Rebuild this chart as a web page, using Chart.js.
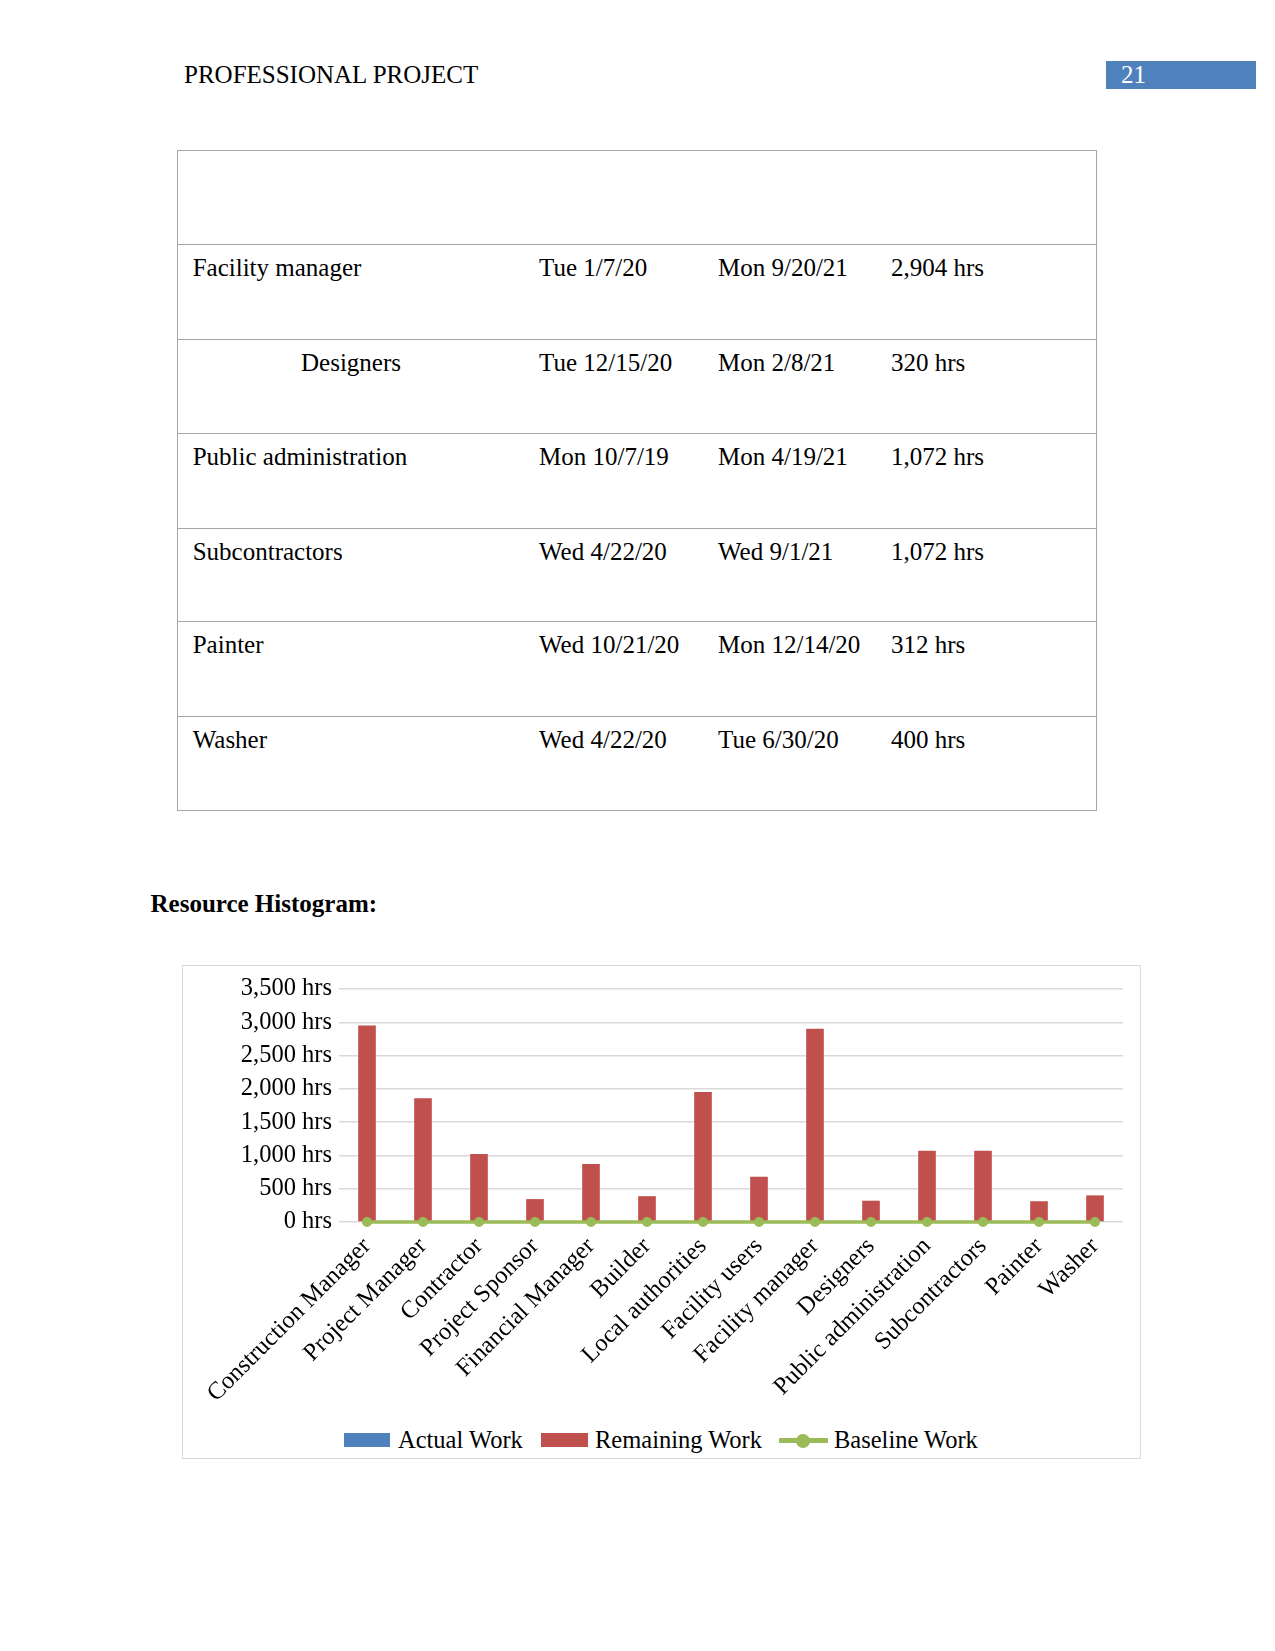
<!DOCTYPE html>
<html>
<head>
<meta charset="utf-8">
<script src="https://cdn.jsdelivr.net/npm/chart.js@4.4.1/dist/chart.umd.min.js"></script>
<style>
    body{
        margin:0;
        background:#fff;
        font-family:"Liberation Serif","Times New Roman",serif;
        color:#000;
    }
    .page{
        position:relative;
        width:1275px;
        height:1651px;
        overflow:hidden;
    }
    .abs{
        position:absolute;
        white-space:nowrap;
        font-size:25px;
        line-height:25px;
    }
    .hline{
        position:absolute;
        left:177px;
        width:920px;
        height:0;
        border-top:1.5px solid #a6a6a6;
    }
    .vline{
        position:absolute;
        top:149.5px;
        height:660.5px;
        width:0;
        border-left:1.5px solid #a6a6a6;
    }
    .chartBox{
        position:absolute;
        left:182px;
        top:964.5px;
        width:959px;
        height:494px;
        border:1.5px solid #d9d9d9;
        box-sizing:border-box;
    }
    .lg{
        position:absolute;
        font-size:24.5px;
        line-height:24px;
        white-space:nowrap;
    }
</style>
</head>
<body>
<div class="page" id="page">

    <div class="abs" style="left:184px;top:62px;">PROFESSIONAL PROJECT</div>
    <div style="position:absolute;left:1106px;top:61px;width:150px;height:27.5px;background:#4f81bd;"></div>
    <div class="abs" style="left:1121px;top:62px;color:#fff;">21</div>

    <div class="abs" style="left:150.5px;top:891px;font-weight:bold;">Resource Histogram:</div>

    <div class="chartBox"></div>
    <div style="position:absolute;left:182px;top:966px;width:961px;height:450px;">
        <canvas id="histChart"></canvas>
    </div>

    <div style="position:absolute;left:344px;top:1433px;width:46px;height:14px;background:#4f81bd;"></div>
    <div class="lg" style="left:398px;top:1428px;">Actual Work</div>
    <div style="position:absolute;left:541px;top:1433px;width:47px;height:14px;background:#c0504d;"></div>
    <div class="lg" style="left:595px;top:1428px;">Remaining Work</div>
    <div style="position:absolute;left:779px;top:1438px;width:49px;height:5px;background:#9bbb59;"></div>
    <div style="position:absolute;left:796px;top:1433.5px;width:14px;height:14px;border-radius:50%;background:#9bbb59;"></div>
    <div class="lg" style="left:834px;top:1428px;">Baseline Work</div>

</div>

<script>

// ==========================
// Data
// ==========================

const resources=[
    "Construction Manager",
    "Project Manager",
    "Contractor",
    "Project Sponsor",
    "Financial Manager",
    "Builder",
    "Local authorities",
    "Facility users",
    "Facility manager",
    "Designers",
    "Public administration",
    "Subcontractors",
    "Painter",
    "Washer"
];

const actualWork=[0,0,0,0,0,0,0,0,0,0,0,0,0,0];

const remainingWork=[2950,1860,1020,344,872,388,1952,680,2904,320,1072,1072,312,400];

const baselineWork=[0,0,0,0,0,0,0,0,0,0,0,0,0,0];

const yTicks=[0,500,1000,1500,2000,2500,3000,3500];

const tableRows=[
    ["Facility manager","Tue 1/7/20","Mon 9/20/21","2,904 hrs"],
    ["Designers","Tue 12/15/20","Mon 2/8/21","320 hrs"],
    ["Public administration","Mon 10/7/19","Mon 4/19/21","1,072 hrs"],
    ["Subcontractors","Wed 4/22/20","Wed 9/1/21","1,072 hrs"],
    ["Painter","Wed 10/21/20","Mon 12/14/20","312 hrs"],
    ["Washer","Wed 4/22/20","Tue 6/30/20","400 hrs"]
];

// ==========================
// Table
// ==========================

const page=document.getElementById("page");

const lineYs=[149.5,244,339,433,527.5,621,716,810];
const colXs=[192.7,539,718,891];

lineYs.forEach(y=>{
    const d=document.createElement("div");
    d.className="hline";
    d.style.top=y+"px";
    page.appendChild(d);
});

[177,1096].forEach(x=>{
    const d=document.createElement("div");
    d.className="vline";
    d.style.left=x+"px";
    page.appendChild(d);
});

tableRows.forEach((row,r)=>{
    row.forEach((txt,c)=>{
        const d=document.createElement("div");
        d.className="abs";
        d.textContent=txt;
        d.style.top=(lineYs[r+1]+11)+"px";
        if(r===1 && c===0){
            d.style.left="351px";
            d.style.transform="translateX(-50%)";
        }else{
            d.style.left=colXs[c]+"px";
        }
        page.appendChild(d);
    });
});

// ==========================
// Resource Histogram
// ==========================

const serif="'Liberation Serif','Times New Roman',serif";

new Chart(document.getElementById("histChart"),{

    type:"bar",

    data:{

        labels:resources,

        datasets:[
            {
                label:"Actual Work",
                data:actualWork,
                backgroundColor:"#4f81bd",
                barPercentage:0.315,
                categoryPercentage:1,
                order:2
            },
            {
                label:"Remaining Work",
                data:remainingWork,
                backgroundColor:"#c0504d",
                barPercentage:0.315,
                categoryPercentage:1,
                order:1
            },
            {
                type:"line",
                label:"Baseline Work",
                data:baselineWork,
                borderColor:"#9bbb59",
                backgroundColor:"#9bbb59",
                borderWidth:3.5,
                pointRadius:5,
                pointBorderWidth:0,
                pointBackgroundColor:"#9bbb59",
                stack:"baseline",
                clip:false,
                order:0
            }
        ]

    },

    options:{

        responsive:true,

        maintainAspectRatio:false,

        animation:false,

        layout:{
            padding:{top:23,right:20,left:0,bottom:0}
        },

        plugins:{
            legend:{display:false},
            tooltip:{enabled:false}
        },

        scales:{

            x:{
                stacked:true,
                grid:{display:false},
                border:{display:false},
                ticks:{
                    autoSkip:false,
                    minRotation:45,
                    maxRotation:45,
                    padding:2,
                    color:"#000",
                    font:{family:serif,size:24.5}
                },
                afterFit:s=>{ s.height=194; }
            },

            y:{
                stacked:true,
                min:0,
                max:3500,
                grid:{
                    color:"#d9d9d9",
                    lineWidth:1.5,
                    drawTicks:false
                },
                border:{display:false},
                ticks:{
                    padding:7,
                    color:"#000",
                    font:{family:serif,size:24.5},
                    callback:v=>v.toLocaleString("en-US")+" hrs"
                },
                afterBuildTicks:s=>{ s.ticks=yTicks.map(v=>({value:v})); },
                afterFit:s=>{ s.width=157; }
            }

        }

    }

});

</script>
</body>
</html>
